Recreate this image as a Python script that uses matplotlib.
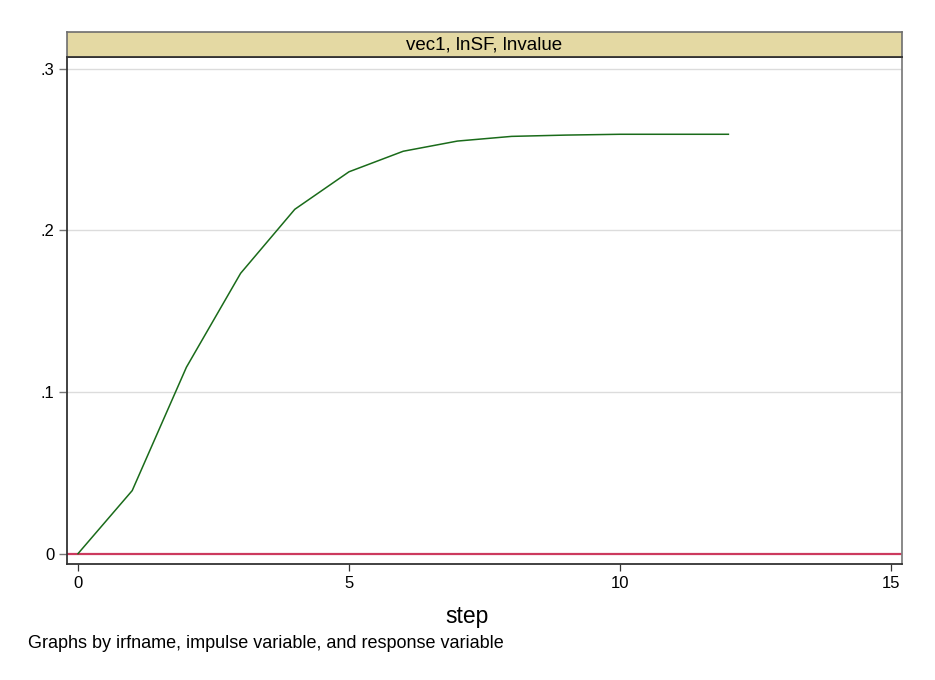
import numpy as np
import matplotlib
matplotlib.use("Agg")
import matplotlib.pyplot as plt

# ── DATA ───────────────────────────────────────────────────────────────────────
steps = [0, 1, 2, 3, 4, 5, 6, 7, 8, 9, 10, 11, 12]
irf   = [0.0, 0.0390, 0.1153, 0.1734, 0.2130, 0.2362, 0.2489,
         0.2552, 0.2581, 0.2589, 0.2594, 0.2594, 0.2594]

x_ticks  = [0, 5, 10, 15]
y_ticks  = [0, 0.1, 0.2, 0.3]
y_labels = ["0", ".1", ".2", ".3"]

panel_title = "vec1, lnSF, lnvalue"
x_title     = "step"
note_text   = "Graphs by irfname, impulse variable, and response variable"

# ── STYLE ──────────────────────────────────────────────────────────────────────
plt.rcParams["font.family"] = ["Liberation Sans", "DejaVu Sans"]

W, H = 935, 680
fig = plt.figure(figsize=(W / 100, H / 100), dpi=100)
fig.patch.set_facecolor("white")

def fx(px):
    return px / W

def fy(py):
    return 1 - py / H

# main plot region (pixel coords from the reference)
L, R, T, B = 67, 902, 57, 564
ax = fig.add_axes([fx(L), fy(B), fx(R) - fx(L), fy(T) - fy(B)])

ax.set_xlim(-0.203, 15.203)
ax.set_ylim(-0.0064, 0.3072)

for y in y_ticks[1:]:
    ax.axhline(y, color="#dcdcdc", lw=1.0, zorder=1)

ax.axhline(0, color="#cc3a5e", lw=1.6, zorder=2)
ax.plot(steps, irf, color="#1a6b1a", lw=1.1, zorder=3)

ax.set_xticks(x_ticks)
ax.set_yticks(y_ticks)
ax.set_yticklabels(y_labels)
ax.tick_params(axis="x", direction="out", length=5, width=0.9,
               color="#333333", labelsize=12, pad=4)
ax.tick_params(axis="y", direction="out", length=6, width=1.0,
               color="#777777", labelsize=12, pad=3)

ax.spines["left"].set_color("#333333")
ax.spines["left"].set_linewidth(1.3)
ax.spines["bottom"].set_color("#333333")
ax.spines["bottom"].set_linewidth(1.3)
ax.spines["right"].set_color("#808080")
ax.spines["right"].set_linewidth(1.3)
ax.spines["top"].set_color("#333333")
ax.spines["top"].set_linewidth(1.3)

# ── STRIP (panel header) ───────────────────────────────────────────────────────
strip = fig.add_axes([fx(L), fy(T), fx(R) - fx(L), fy(32) - fy(T)])
strip.set_facecolor("#e4d9a3")
strip.set_xticks([])
strip.set_yticks([])
for side in ["top", "right", "left"]:
    strip.spines[side].set_color("#6e6e6e")
    strip.spines[side].set_linewidth(1.2)
strip.spines["bottom"].set_color("#333333")
strip.spines["bottom"].set_linewidth(1.3)
strip.text(0.5, 0.47, panel_title, ha="center", va="center", fontsize=13.5,
           transform=strip.transAxes)

# ── TITLES ─────────────────────────────────────────────────────────────────────
fig.text(fx(467), fy(617), x_title, ha="center", va="center", fontsize=16.5)
fig.text(fx(28), fy(643), note_text, ha="left", va="center", fontsize=13)

fig.savefig("out.png", dpi=100)
